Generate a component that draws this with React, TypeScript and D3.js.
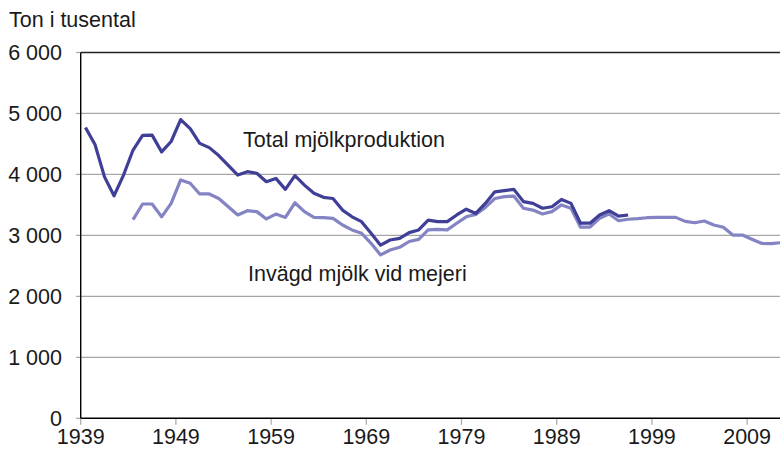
import React from "react";
import * as d3 from "d3";

const totalStartYear = 1939;
const totalValues = [
  4770, 4490, 3960, 3650, 3990, 4400, 4640, 4645, 4370, 4540,
  4900, 4750, 4510, 4440, 4310, 4150, 3990, 4045, 4020, 3880,
  3935, 3755, 3980, 3825, 3690, 3625, 3605, 3415, 3305, 3225,
  3035, 2840, 2925, 2950, 3045, 3090, 3250, 3225, 3225, 3335,
  3430, 3360, 3525, 3715, 3735, 3755, 3555, 3525, 3445, 3470,
  3590, 3525, 3200, 3200, 3335, 3405, 3315, 3335,
];

const invagdStartYear = 1944;
const invagdValues = [
  3260, 3515, 3515, 3305, 3525, 3910, 3855, 3680, 3680, 3605,
  3470, 3335, 3405, 3390, 3270, 3350, 3295, 3535, 3390, 3295,
  3290, 3280, 3170, 3090, 3035, 2870, 2680, 2760, 2805, 2900,
  2935, 3090, 3100, 3090, 3200, 3305, 3345, 3460, 3605, 3635,
  3645, 3445, 3415, 3350, 3390, 3500, 3445, 3135, 3135, 3280,
  3350, 3240, 3265, 3275, 3290, 3295, 3296, 3296, 3230, 3208,
  3236, 3170, 3133, 3006, 3006, 2936, 2870, 2865, 2880,
];

const xTickYears = [1939, 1949, 1959, 1969, 1979, 1989, 1999, 2009];
const yTicks = [0, 1000, 2000, 3000, 4000, 5000, 6000];
const yTickLabels = ["0", "1 000", "2 000", "3 000", "4 000", "5 000", "6 000"];

const yAxisTitle = "Ton i tusental";
const totalLabel = "Total mjölkproduktion";
const invagdLabel = "Invägd mjölk vid mejeri";

const W = 780;
const H = 449;
const FONT = "'Liberation Sans', Arial, sans-serif";
const FS = 21.5;

export default function App() {
  const x = d3.scaleLinear().domain([1938.5, 2012.5]).range([80.7, 785.2]);
  const y = d3.scaleLinear().domain([0, 6000]).range([418.3, 52.5]);

  const totalData = totalValues.map((v, i) => ({ year: totalStartYear + i, v }));
  const invagdData = invagdValues.map((v, i) => ({ year: invagdStartYear + i, v }));

  const line = d3
    .line<{ year: number; v: number }>()
    .x((d) => x(d.year))
    .y((d) => y(d.v));

  return (
    <svg
      width={W}
      height={H}
      style={{ position: "absolute", left: 0, top: 0, background: "#fff" }}
      fontFamily={FONT}
    >
      <rect x={0} y={0} width={W} height={H} fill="#fff" />
      {/* gridlines */}
      {yTicks.slice(1).map((t) => (
        <line
          key={"g" + t}
          x1={x(1938.5)}
          x2={W}
          y1={y(t)}
          y2={y(t)}
          stroke={t === 6000 ? "#222" : "#a6a6a6"}
          strokeWidth={t === 6000 ? 1.3 : 1.2}
        />
      ))}
      {/* y tick marks */}
      {yTicks.map((t) => (
        <line
          key={"yt" + t}
          x1={76}
          x2={x(1938.5)}
          y1={y(t)}
          y2={y(t)}
          stroke="#a6a6a6"
          strokeWidth={1.2}
        />
      ))}
      {/* x tick marks */}
      {xTickYears.map((yr) => (
        <line
          key={"xt" + yr}
          x1={x(yr - 0.5)}
          x2={x(yr - 0.5)}
          y1={y(0)}
          y2={y(0) + 6.5}
          stroke="#a6a6a6"
          strokeWidth={1.2}
        />
      ))}
      {/* axes */}
      <line x1={x(1938.5)} x2={x(1938.5)} y1={y(6000)} y2={y(0)} stroke="#000" strokeWidth={1.4} />
      <line x1={x(1938.5)} x2={W} y1={y(0)} y2={y(0)} stroke="#000" strokeWidth={1.4} />

      {/* lines */}
      <path d={line(invagdData) || ""} fill="none" stroke="#8484c4" strokeWidth={3.2} strokeLinejoin="round" />
      <path d={line(totalData) || ""} fill="none" stroke="#3f3f98" strokeWidth={3.2} strokeLinejoin="round" />

      {/* y labels */}
      {yTicks.map((t, i) => (
        <text
          key={"yl" + t}
          x={62}
          y={y(t)}
          dy="0.35em"
          textAnchor="end"
          fontSize={FS}
          fill="#1a1a1a"
        >
          {yTickLabels[i]}
        </text>
      ))}
      {/* x labels */}
      {xTickYears.map((yr) => (
        <text
          key={"xl" + yr}
          x={x(yr - 0.5)}
          y={444.3}
          textAnchor="middle"
          fontSize={FS}
          fill="#1a1a1a"
        >
          {yr}
        </text>
      ))}

      <text x={9} y={26.7} fontSize={FS} fill="#1a1a1a">
        {yAxisTitle}
      </text>
      <text x={243} y={147} fontSize={FS} fill="#1a1a1a">
        {totalLabel}
      </text>
      <text x={248} y={281} fontSize={FS} fill="#1a1a1a">
        {invagdLabel}
      </text>
    </svg>
  );
}
